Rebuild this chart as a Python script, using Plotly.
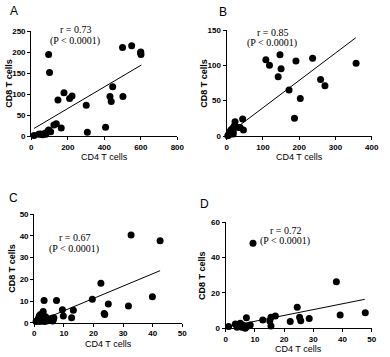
import plotly.graph_objects as go

W, H = 390, 357

# ---- data ----
A_x = [15, 40, 50, 62, 72, 80, 88, 95, 106, 95, 100, 124, 137, 146, 164, 179, 210, 223, 301, 307, 407, 431, 438, 446, 500, 502, 550, 599, 601, 600]
A_y = [1, 4, 5, 3, 6, 4, 10, 14, 10, 194, 151, 26, 29, 86, 19, 103, 89, 95, 73, 9, 21, 94, 82, 117, 211, 94, 215, 198, 194, 200]
A_line_x = [15, 603]
A_line_y = [18, 169]

B_x = [108, 118, 147, 150, 142, 191, 237, 357, 259, 271, 172, 203, 187, 46, 44, 20, 23, 32, 37, 5, 7, 9, 14, 17, 18, 11, 16, 3, 18, 12, 22]
B_y = [108, 100, 115, 95, 84, 106, 110, 103, 80, 71, 65, 53, 25, 8.5, 24, 13, 20, 12, 12, 1.5, 4, 6, 8, 11, 6, 3, 4, 0.5, 3, 9, 15]
B_line_x = [7, 356]
B_line_y = [4, 139]

C_x = [32.7, 42.5, 22.5, 19.6, 25, 31.8, 39.9, 23.6, 23.8, 13.2, 12.6, 9.5, 9.8, 7.5, 3.3, 3.0, 1.4, 1.7, 2.1, 2.5, 2.8, 3.4, 4.2, 4.7, 5.3, 5.9, 6.2, 6.4, 6.6, 0.6, 1.0, 1.9, 3.8]
C_y = [40.5, 37.8, 18.2, 10.8, 8.6, 7.7, 12, 4.3, 3.8, 5.8, 2.3, 6, 3.1, 10.2, 10.2, 5.2, 2, 3.2, 3.8, 2.3, 1.2, 0.5, 0.8, 1.7, 1.5, 2, 0.8, 1.2, 2.3, 0.5, 1, 0.5, 2.8]
C_line_x = [3, 42.5]
C_line_y = [1.5, 24]

D_x = [9.35, 37.9, 47.8, 39.2, 24.5, 25.3, 25.7, 28.6, 22.1, 17, 15.5, 15.1, 15.5, 12.7, 7.1, 1.0, 3.3, 4.2, 5.0, 5.8, 6.5, 7.3, 8.4, 4.7, 5.6, 6.7, 3.9, 5.4]
D_y = [48.1, 26.4, 8.8, 7.5, 11.9, 6.2, 4.3, 5.6, 3.8, 7, 6.2, 4.1, 1.3, 4.7, 6, 1.0, 2.5, 1.9, 2.8, 1.9, 1.3, 1.0, 1.9, 1.0, 0.6, 0, 0.6, 1.5]
D_line_x = [1, 47.6]
D_line_y = [1, 16.4]

r_labels = ["r = 0.73", "r = 0.85", "r = 0.67", "r = 0.72"]
p_label = "(P < 0.0001)"
x_title = "CD4 T cells"
y_title = "CD8 T cells"

panels = [
    dict(name="A", x=A_x, y=A_y, lx=A_line_x, ly=A_line_y, xr=[0, 800], yr=[0, 250], xd=[0, 200, 400, 600, 800], yd=[0, 50, 100, 150, 200, 250],
         ann=(75, 29, 41), px=(31.3, 177.3), py=(31, 136), letter=(14, 11)),
    dict(name="B", x=B_x, y=B_y, lx=B_line_x, ly=B_line_y, xr=[0, 400], yr=[0, 150], xd=[0, 100, 200, 300, 400], yd=[0, 50, 100, 150],
         ann=(272, 32, 43), px=(226.7, 371.7), py=(30, 136), letter=(223, 12)),
    dict(name="C", x=C_x, y=C_y, lx=C_line_x, ly=C_line_y, xr=[0, 50], yr=[0, 50], xd=[0, 10, 20, 30, 40, 50], yd=[0, 10, 20, 30, 40, 50],
         ann=(74, 237, 249), px=(34.3, 182.3), py=(214.3, 322.7), letter=(14, 198)),
    dict(name="D", x=D_x, y=D_y, lx=D_line_x, ly=D_line_y, xr=[0, 50], yr=[0, 60], xd=[0, 10, 20, 30, 40, 50], yd=[0, 20, 40, 60],
         ann=(285, 230, 241), px=(225.7, 371.7), py=(222.3, 328.3), letter=(204, 204)),
]

fig = go.Figure()
layout = dict(width=W, height=H, margin=dict(l=0, r=0, t=0, b=0, autoexpand=False), showlegend=False,
              plot_bgcolor="white", paper_bgcolor="white")
annotations = []
tickfont = dict(family="Liberation Sans, Arial", size=8, color="black", weight="bold")
serif = dict(family="Liberation Serif, Times New Roman", size=10, color="black")
sans = "Liberation Sans, Arial"


def paper(xp, yp):
    return xp / W, 1 - yp / H


for i, p in enumerate(panels):
    n = "" if i == 0 else str(i + 1)
    xa, ya = "x" + n, "y" + n
    fig.add_trace(go.Scatter(x=p["lx"], y=p["ly"], mode="lines", line=dict(color="black", width=1),
                             xaxis=xa, yaxis=ya, hoverinfo="skip"))
    fig.add_trace(go.Scatter(x=p["x"], y=p["y"], mode="markers", marker=dict(color="black", size=7),
                             cliponaxis=False, xaxis=xa, yaxis=ya))
    xd = [p["px"][0] / W, p["px"][1] / W]
    yd = [1 - p["py"][1] / H, 1 - p["py"][0] / H]
    common = dict(showgrid=False, zeroline=False, showline=True, linecolor="black", linewidth=1.3,
                  ticks="outside", ticklen=3, tickcolor="black", tickwidth=1.3, tickfont=tickfont)
    layout["xaxis" + n] = dict(domain=xd, range=p["xr"], tickvals=p["xd"], anchor=ya, **common)
    layout["yaxis" + n] = dict(domain=yd, range=p["yr"], tickvals=p["yd"], anchor=xa, **common)

    ax, ry, pyy = p["ann"]
    x0, y0 = paper(ax, ry)
    annotations.append(dict(x=x0, y=y0, xref="paper", yref="paper", text=r_labels[i], showarrow=False,
                            xanchor="center", yanchor="middle", font=serif))
    x0, y0 = paper(ax, pyy)
    annotations.append(dict(x=x0, y=y0, xref="paper", yref="paper", text=p_label, showarrow=False,
                            xanchor="center", yanchor="middle", font=serif))
    lx, ly = p["letter"]
    x0, y0 = paper(lx, ly)
    annotations.append(dict(x=x0, y=y0, xref="paper", yref="paper", text=p["name"], showarrow=False,
                            xanchor="center", yanchor="middle", font=dict(family=sans, size=12, color="black")))
    xc = (p["px"][0] + p["px"][1]) / 2
    x0, y0 = paper(xc, p["py"][1] + 21)
    annotations.append(dict(x=x0, y=y0, xref="paper", yref="paper", text=x_title, showarrow=False,
                            xanchor="center", yanchor="middle", font=dict(family=sans, size=9, color="black")))
    yc = (p["py"][0] + p["py"][1]) / 2
    x0, y0 = paper(p["px"][0] - 23, yc)
    annotations.append(dict(x=x0, y=y0, xref="paper", yref="paper", text="<b>" + y_title + "</b>",
                            textangle=-90, showarrow=False, xanchor="center", yanchor="middle",
                            font=dict(family=sans, size=9, color="black")))

layout["annotations"] = annotations
fig.update_layout(**layout)
fig.write_html("out.html", config={"displayModeBar": False},
               post_script="document.body.style.margin='0';document.body.style.padding='0';")
